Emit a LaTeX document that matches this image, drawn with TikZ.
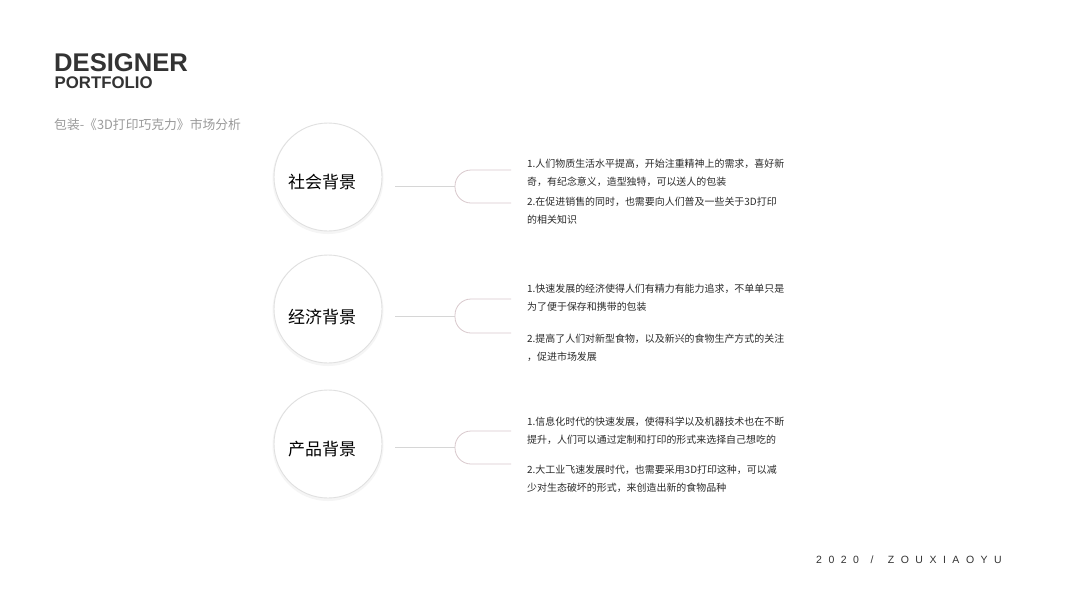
\documentclass[tikz,border=0pt]{standalone}
\usepackage{fontspec}
\setmainfont{Liberation Sans}
\newfontfamily\cjk{Noto Sans CJK SC}
\newfontfamily\latinsans{Liberation Sans}
\definecolor{titlegray}{HTML}{333333}
\definecolor{subgray}{HTML}{9A9A9A}
\definecolor{bodygray}{HTML}{2A2A2A}
\definecolor{rimgray}{HTML}{E0E0E0}
\definecolor{stemgray}{HTML}{D6D6D6}
\definecolor{bracketpink}{HTML}{D9C9CD}
\begin{document}
\begin{tikzpicture}[x=1pt,y=-1pt,
  bubble/.style={circle,draw=rimgray,line width=0.9pt,fill=white,minimum size=108pt,inner sep=0pt},
  bubbletext/.style={font=\cjk\fontsize{17}{20}\selectfont,text=black,inner sep=0pt},
  item/.style={anchor=west,inner sep=0pt,align=left,text=bodygray,font=\cjk\fontsize{9.95}{18}\selectfont},
  stem/.style={draw=stemgray,line width=0.8pt},
  bracket/.style={draw=bracketpink,line width=0.8pt,rounded corners=16pt}]
\useasboundingbox (0,0) rectangle (1066,600);
\fill[white] (0,0) rectangle (1066,600);

% title
\node[anchor=west,inner sep=0pt,text=titlegray,font=\latinsans\bfseries\fontsize{25.6}{26}\selectfont] (t1) at (54,63) {DESIGNER};
\node[anchor=west,inner sep=0pt,text=titlegray,font=\latinsans\bfseries\fontsize{16.8}{17}\selectfont] (t2) at (54.5,83) {PORTFOLIO};
\node[anchor=west,inner sep=0pt,text=subgray,font=\cjk\fontsize{12.8}{14}\selectfont] (t3) at (54,125) {包装-《3D打印巧克力》市场分析};

% circles
\fill[black!4] (328,178.5) circle (55.5pt);
\fill[black!4] (328,310.5) circle (55.5pt);
\fill[black!4] (328,445.5) circle (55.5pt);
\node[bubble] (c1) at (328,177) {};
\node[bubble] (c2) at (328,309) {};
\node[bubble] (c3) at (328,444) {};
\node[bubbletext] (l1) at (322,182) {社会背景};
\node[bubbletext] (l2) at (322,317) {经济背景};
\node[bubbletext] (l3) at (322,449) {产品背景};

% connectors
\coordinate (s1) at (395,186); \coordinate (b1) at (455,186);
\coordinate (s2) at (395,316); \coordinate (b2) at (455,316);
\coordinate (s3) at (395,447); \coordinate (b3) at (455,447);
\draw[stem] (s1) -- (b1);
\draw[stem] (s2) -- (b2);
\draw[stem] (s3) -- (b3);
\draw[bracket] (511,170) -- (455,170) -- (455,203) -- (511,203);
\draw[bracket] (511,299) -- (455,299) -- (455,333) -- (511,333);
\draw[bracket] (511,431) -- (455,431) -- (455,464) -- (511,464);

% texts
\node[item] (p11) at (527,173) {1.人们物质生活水平提高，开始注重精神上的需求，喜好新\\奇，有纪念意义，造型独特，可以送人的包装};
\node[item] (p12) at (527,211) {2.在促进销售的同时，也需要向人们普及一些关于3D打印\\的相关知识};
\node[item] (p21) at (527,298) {1.快速发展的经济使得人们有精力有能力追求，不单单只是\\为了便于保存和携带的包装};
\node[item] (p22) at (527,347.5) {2.提高了人们对新型食物，以及新兴的食物生产方式的关注\\，促进市场发展};
\node[item] (p31) at (527,430.5) {1.信息化时代的快速发展，使得科学以及机器技术也在不断\\提升，人们可以通过定制和打印的形式来选择自己想吃的};
\node[item] (p32) at (527,479) {2.大工业飞速发展时代，也需要采用3D打印这种，可以减\\少对生态破坏的形式，来创造出新的食物品种};

% footer
\node[anchor=west,inner sep=0pt,text=titlegray,font=\latinsans\fontsize{10.5}{12}\selectfont\addfontfeature{LetterSpace=62}] (ft) at (816,560) {2020\hspace{2pt} /\hspace{5pt} ZOUXIAOYU};
\end{tikzpicture}
\end{document}
